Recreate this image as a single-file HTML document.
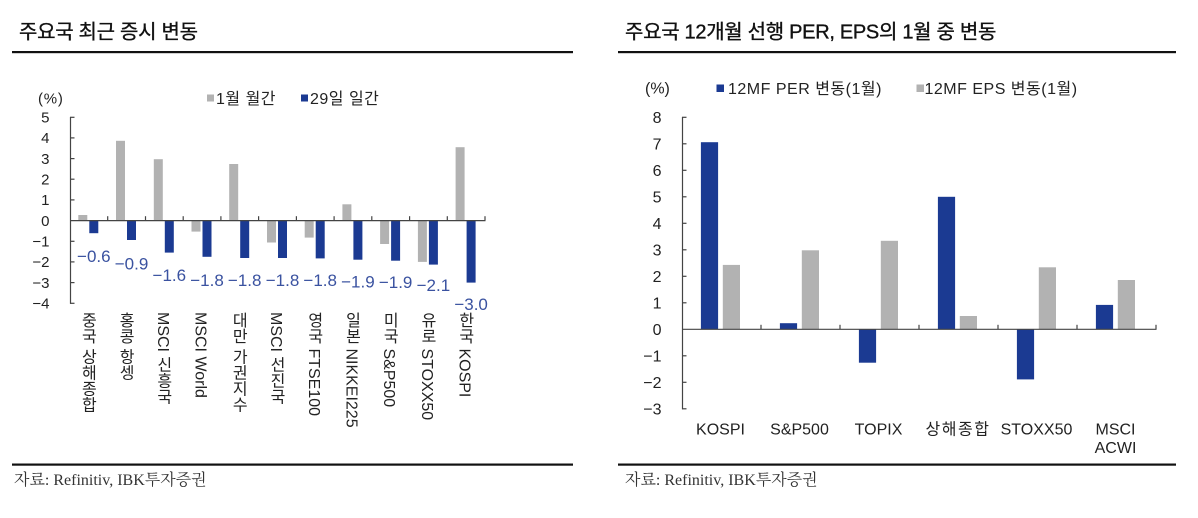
<!DOCTYPE html>
<html>
<head>
<meta charset="utf-8">
<style>
  html,body{margin:0;padding:0;background:#fff;}
  body{width:1198px;height:518px;position:relative;overflow:hidden;font-family:"Liberation Sans","Noto Sans CJK KR",sans-serif;color:#222;}
  svg{position:absolute;left:0;top:0;}
  .vl{position:absolute;top:312px;writing-mode:vertical-rl;font-size:16px;line-height:16px;width:16px;white-space:nowrap;color:#222;font-family:"Liberation Sans","Noto Sans CJK KR",sans-serif;}
</style>
</head>
<body>
<svg width="1198" height="518" viewBox="0 0 1198 518" xmlns="http://www.w3.org/2000/svg">
  <g font-family="Liberation Sans, Noto Sans CJK KR, sans-serif">
  <!-- Titles -->
  <text x="19" y="38.5" font-size="20" letter-spacing="-0.3" fill="#111" stroke="#111" stroke-width="0.35">주요국 최근 증시 변동</text>
  <text x="625" y="38.5" font-size="20" letter-spacing="-0.3" fill="#111" stroke="#111" stroke-width="0.35">주요국 12개월 선행 PER, EPS의 1월 중 변동</text>
  <rect x="12" y="51" width="561" height="2.2" fill="#111"/>
  <rect x="618" y="51" width="558" height="2.2" fill="#111"/>

  <!-- Footer -->
  <rect x="12" y="463.5" width="561" height="2.2" fill="#111"/>
  <rect x="618" y="463.5" width="558" height="2.2" fill="#111"/>
  <text x="14" y="485" font-size="16" fill="#333" font-family="Liberation Serif, Noto Serif CJK SC, serif">자료: Refinitiv, IBK투자증권</text>
  <text x="625" y="485" font-size="16" fill="#333" font-family="Liberation Serif, Noto Serif CJK SC, serif">자료: Refinitiv, IBK투자증권</text>

  <!-- LEFT CHART -->
  <text x="38" y="103.5" font-size="15" letter-spacing="0.8" fill="#222">(%)</text>
  <rect x="207" y="94.5" width="7" height="7" fill="#b2b2b2"/>
  <text x="216" y="104" font-size="16" letter-spacing="0.5" fill="#222">1월 월간</text>
  <rect x="301" y="94.5" width="7" height="7" fill="#1b3a92"/>
  <text x="310" y="104" font-size="16" letter-spacing="0.5" fill="#222">29일 일간</text>

  <g font-size="15" fill="#222" text-anchor="end">
    <text x="49.5" y="122.5">5</text>
    <text x="49.5" y="143.2">4</text>
    <text x="49.5" y="163.9">3</text>
    <text x="49.5" y="184.5">2</text>
    <text x="49.5" y="205.2">1</text>
    <text x="49.5" y="225.9">0</text>
    <text x="49.5" y="246.6">−1</text>
    <text x="49.5" y="267.2">−2</text>
    <text x="49.5" y="287.9">−3</text>
    <text x="49.5" y="308.6">−4</text>
  </g>

  <!-- gray bars left -->
  <g fill="#b2b2b2">
    <rect x="78.3" y="215.0" width="9" height="5.6"/>
    <rect x="116.0" y="140.8" width="9" height="79.8"/>
    <rect x="153.8" y="159.2" width="9" height="61.4"/>
    <rect x="191.5" y="220.6" width="9" height="11.0"/>
    <rect x="229.2" y="164.0" width="9" height="56.6"/>
    <rect x="267.0" y="220.6" width="9" height="21.9"/>
    <rect x="304.7" y="220.6" width="9" height="17.0"/>
    <rect x="342.4" y="204.3" width="9" height="16.3"/>
    <rect x="380.1" y="220.6" width="9" height="23.4"/>
    <rect x="417.9" y="220.6" width="9" height="41.3"/>
    <rect x="455.6" y="147.2" width="9" height="73.4"/>
  </g>
  <!-- blue bars left -->
  <g fill="#1b3a92">
    <rect x="89.3" y="220.6" width="9" height="12.6"/>
    <rect x="127.0" y="220.6" width="9" height="19.4"/>
    <rect x="164.8" y="220.6" width="9" height="32.0"/>
    <rect x="202.5" y="220.6" width="9" height="36.2"/>
    <rect x="240.2" y="220.6" width="9" height="37.4"/>
    <rect x="278.0" y="220.6" width="9" height="37.4"/>
    <rect x="315.7" y="220.6" width="9" height="37.8"/>
    <rect x="353.4" y="220.6" width="9" height="39.1"/>
    <rect x="391.1" y="220.6" width="9" height="40.1"/>
    <rect x="428.9" y="220.6" width="9" height="44.0"/>
    <rect x="466.6" y="220.6" width="9" height="62.0"/>
  </g>

  <!-- left axes -->
  <g stroke="#444" stroke-width="1.2" fill="none">
    <line x1="70.5" y1="117" x2="70.5" y2="303.8"/>
    <line x1="70" y1="220.6" x2="485.5" y2="220.6"/>
    <line x1="70" y1="117.3" x2="74.5" y2="117.3"/>
    <line x1="70" y1="137.9" x2="74.5" y2="137.9"/>
    <line x1="70" y1="158.6" x2="74.5" y2="158.6"/>
    <line x1="70" y1="179.2" x2="74.5" y2="179.2"/>
    <line x1="70" y1="199.9" x2="74.5" y2="199.9"/>
    <line x1="70" y1="241.3" x2="74.5" y2="241.3"/>
    <line x1="70" y1="261.9" x2="74.5" y2="261.9"/>
    <line x1="70" y1="282.6" x2="74.5" y2="282.6"/>
    <line x1="70" y1="303.3" x2="74.5" y2="303.3"/>
    <line x1="107.7" y1="220.6" x2="107.7" y2="216.2"/>
    <line x1="145.5" y1="220.6" x2="145.5" y2="216.2"/>
    <line x1="183.2" y1="220.6" x2="183.2" y2="216.2"/>
    <line x1="220.9" y1="220.6" x2="220.9" y2="216.2"/>
    <line x1="258.6" y1="220.6" x2="258.6" y2="216.2"/>
    <line x1="296.4" y1="220.6" x2="296.4" y2="216.2"/>
    <line x1="334.1" y1="220.6" x2="334.1" y2="216.2"/>
    <line x1="371.8" y1="220.6" x2="371.8" y2="216.2"/>
    <line x1="409.6" y1="220.6" x2="409.6" y2="216.2"/>
    <line x1="447.3" y1="220.6" x2="447.3" y2="216.2"/>
    <line x1="485.0" y1="220.6" x2="485.0" y2="216.2"/>
  </g>

  <!-- value labels -->
  <g font-size="17" fill="#3a52a0" text-anchor="middle">
    <text x="93.8" y="262">−0.6</text>
    <text x="131.5" y="269.3">−0.9</text>
    <text x="169.3" y="281">−1.6</text>
    <text x="207.0" y="286">−1.8</text>
    <text x="244.7" y="286">−1.8</text>
    <text x="282.5" y="286">−1.8</text>
    <text x="320.2" y="286">−1.8</text>
    <text x="357.9" y="287.7">−1.9</text>
    <text x="395.6" y="288">−1.9</text>
    <text x="433.4" y="291">−2.1</text>
    <text x="471.1" y="310">−3.0</text>
  </g>

  <!-- RIGHT CHART -->
  <text x="645" y="93.5" font-size="16" fill="#222">(%)</text>
  <rect x="716.5" y="84.5" width="7.5" height="7.5" fill="#1b3a92"/>
  <text x="728" y="94" font-size="16" letter-spacing="0.5" fill="#222">12MF PER 변동(1월)</text>
  <rect x="916.5" y="84.5" width="7.5" height="7.5" fill="#b2b2b2"/>
  <text x="924.5" y="94" font-size="16" letter-spacing="0.5" fill="#222">12MF EPS 변동(1월)</text>

  <g font-size="16" fill="#222" text-anchor="end">
    <text x="661.5" y="123">8</text>
    <text x="661.5" y="149.5">7</text>
    <text x="661.5" y="176">6</text>
    <text x="661.5" y="202.5">5</text>
    <text x="661.5" y="229">4</text>
    <text x="661.5" y="255.5">3</text>
    <text x="661.5" y="282">2</text>
    <text x="661.5" y="308.5">1</text>
    <text x="661.5" y="335">0</text>
    <text x="661.5" y="361.5">−1</text>
    <text x="661.5" y="388">−2</text>
    <text x="661.5" y="414.5">−3</text>
  </g>

  <g fill="#1b3a92">
    <rect x="700.9" y="142.2" width="17.2" height="187.1"/>
    <rect x="779.9" y="323.2" width="17.2" height="6.1"/>
    <rect x="858.9" y="329.3" width="17.2" height="33.4"/>
    <rect x="937.9" y="196.8" width="17.2" height="132.5"/>
    <rect x="1016.9" y="329.3" width="17.2" height="50.1"/>
    <rect x="1095.9" y="304.9" width="17.2" height="24.4"/>
  </g>
  <g fill="#b2b2b2">
    <rect x="722.8" y="264.9" width="17.2" height="64.4"/>
    <rect x="801.8" y="250.3" width="17.2" height="79.0"/>
    <rect x="880.8" y="240.8" width="17.2" height="88.5"/>
    <rect x="959.8" y="316.0" width="17.2" height="13.3"/>
    <rect x="1038.8" y="267.3" width="17.2" height="62.0"/>
    <rect x="1117.8" y="280.0" width="17.2" height="49.3"/>
  </g>

  <g stroke="#444" stroke-width="1.2" fill="none">
    <line x1="682.5" y1="117" x2="682.5" y2="409.3"/>
    <line x1="682" y1="329.3" x2="1156.5" y2="329.3"/>
    <line x1="682" y1="117.3" x2="686.5" y2="117.3"/>
    <line x1="682" y1="143.8" x2="686.5" y2="143.8"/>
    <line x1="682" y1="170.3" x2="686.5" y2="170.3"/>
    <line x1="682" y1="196.8" x2="686.5" y2="196.8"/>
    <line x1="682" y1="223.3" x2="686.5" y2="223.3"/>
    <line x1="682" y1="249.8" x2="686.5" y2="249.8"/>
    <line x1="682" y1="276.3" x2="686.5" y2="276.3"/>
    <line x1="682" y1="302.8" x2="686.5" y2="302.8"/>
    <line x1="682" y1="355.8" x2="686.5" y2="355.8"/>
    <line x1="682" y1="382.3" x2="686.5" y2="382.3"/>
    <line x1="682" y1="408.8" x2="686.5" y2="408.8"/>
    <line x1="761" y1="329.3" x2="761" y2="324.8"/>
    <line x1="840" y1="329.3" x2="840" y2="324.8"/>
    <line x1="919" y1="329.3" x2="919" y2="324.8"/>
    <line x1="998" y1="329.3" x2="998" y2="324.8"/>
    <line x1="1077" y1="329.3" x2="1077" y2="324.8"/>
    <line x1="1156" y1="329.3" x2="1156" y2="324.8"/>
  </g>

  <g font-size="16" fill="#222" text-anchor="middle">
    <text x="720.5" y="434.5">KOSPI</text>
    <text x="799.5" y="434.5">S&amp;P500</text>
    <text x="878.5" y="434.5">TOPIX</text>
    <text x="958" y="434.5" letter-spacing="1.5">상해종합</text>
    <text x="1036.5" y="434.5">STOXX50</text>
    <text x="1115.5" y="434.5">MSCI</text>
    <text x="1115.5" y="453">ACWI</text>
  </g>
  </g>
</svg>

<div class="vl" style="left:78.4px;">중국 상해종합</div>
<div class="vl" style="left:116.1px;">홍콩 항셍</div>
<div class="vl" style="left:153.8px;">MSCI 신흥국</div>
<div class="vl" style="left:191.5px;">MSCI World</div>
<div class="vl" style="left:229.3px;">대만 가권지수</div>
<div class="vl" style="left:267.0px;">MSCI 선진국</div>
<div class="vl" style="left:304.8px;">영국 FTSE100</div>
<div class="vl" style="left:342.5px;">일본 NIKKEI225</div>
<div class="vl" style="left:380.2px;">미국 S&amp;P500</div>
<div class="vl" style="left:418.0px;">유로 STOXX50</div>
<div class="vl" style="left:455.7px;">한국 KOSPI</div>
</body>
</html>
